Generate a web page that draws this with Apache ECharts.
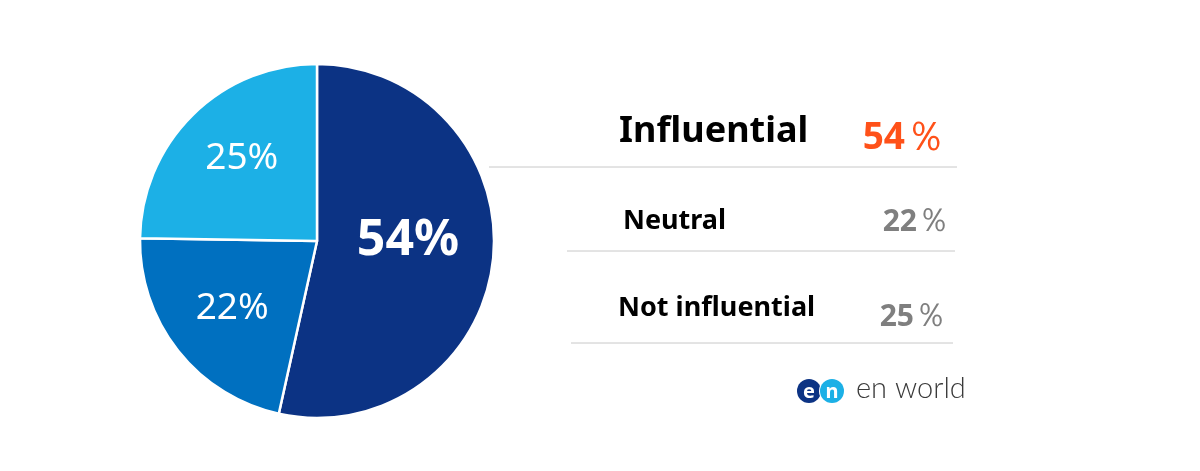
<!DOCTYPE html>
<html lang="en">
<head>
    <meta charset="UTF-8">
    <title>Influence</title>
    <script src="https://cdn.jsdelivr.net/npm/echarts@6.0.0/dist/echarts.min.js"></script>
    <style>
        html, body { margin: 0; padding: 0; background: #ffffff; }
        #chart { width: 1200px; height: 471px; }
    </style>
</head>
<body>
    <div id="chart"></div>
    <script>
        // data
        const categories = ['Influential', 'Neutral', 'Not influential'];
        const values = [54, 22, 25];
        const sliceColors = ['#0c3384', '#0070c0', '#1cb0e6'];

        const chart = echarts.init(document.getElementById('chart'));
        const font = '"Noto Sans", "Open Sans", sans-serif';

        // little nudges so the slice labels sit where the original has them
        const labelOffsets = [[0, -10], [-13, 11], [-11, -17]];
        const labelSizes = [50, 37, 37];
        const labelWeights = ['bold', 'normal', 'normal'];

        const pieData = categories.map((name, i) => ({
            name: name,
            value: values[i],
            itemStyle: { color: sliceColors[i] },
            label: {
                fontSize: labelSizes[i],
                fontWeight: labelWeights[i],
                offset: labelOffsets[i]
            }
        }));

        // table on the right
        const rows = [
            { nameX: 619, valX: 946, y: 132, valY: 138, nameSize: 36, valSize: 37, valColor: '#ff5119', line: [489, 167, 957] },
            { nameX: 623, valX: 950, y: 221, valY: 222, nameSize: 27, valSize: 30, valColor: '#7f7f7f', line: [567, 251, 955] },
            { nameX: 618, valX: 947, y: 308, valY: 317, nameSize: 27, valSize: 30, valColor: '#7f7f7f', line: [571, 343, 953] }
        ];

        const graphics = [];
        rows.forEach((r, i) => {
            graphics.push({
                type: 'text', silent: true,
                x: r.nameX, y: r.y,
                style: {
                    text: categories[i],
                    font: 'bold ' + r.nameSize + 'px ' + font,
                    fill: '#000000', textVerticalAlign: 'middle'
                }
            });
            graphics.push({
                type: 'text', silent: true,
                x: r.valX, y: r.valY,
                style: {
                    text: '{v|' + values[i] + '}{p|％}',
                    align: 'right', verticalAlign: 'middle',
                    rich: {
                        v: { fontSize: r.valSize, fontWeight: 'bold', fontFamily: font, fill: r.valColor, color: r.valColor },
                        p: { fontSize: Math.round(r.valSize * 1.1), fontWeight: 'normal', fontFamily: font, fill: r.valColor, color: r.valColor }
                    }
                }
            });
            graphics.push({
                type: 'line', silent: true,
                shape: { x1: r.line[0], y1: r.line[1], x2: r.line[2], y2: r.line[1] },
                style: { stroke: '#c8c8c8', lineWidth: 1 }
            });
        });

        // en world logo
        graphics.push(
            { type: 'circle', silent: true, shape: { cx: 809, cy: 391, r: 12 }, style: { fill: '#0c3384' } },
            { type: 'circle', silent: true, shape: { cx: 832, cy: 391, r: 13 }, style: { fill: '#ffffff' } },
            { type: 'circle', silent: true, shape: { cx: 832, cy: 391, r: 12 }, style: { fill: '#1cb0e6' } },
            { type: 'text', silent: true, x: 809, y: 392, style: { text: 'e', font: 'bold 20px ' + font, fill: '#ffffff', align: 'center', verticalAlign: 'middle' } },
            { type: 'text', silent: true, x: 832, y: 392, style: { text: 'n', font: 'bold 20px ' + font, fill: '#ffffff', align: 'center', verticalAlign: 'middle' } },
            { type: 'text', silent: true, x: 856, y: 389, style: { text: 'en world', font: '300 29px Lato, ' + font, fill: '#3a3a3a', verticalAlign: 'middle' } }
        );

        const option = {
            backgroundColor: '#ffffff',
            animation: false,
            series: [{
                type: 'pie',
                center: [317, 241],
                radius: 177,
                startAngle: 90,
                clockwise: true,
                silent: true,
                itemStyle: { borderColor: '#ffffff', borderWidth: 2.5 },
                label: {
                    show: true,
                    position: 'inside',
                    color: '#ffffff',
                    fontFamily: font,
                    formatter: p => p.value + '%'
                },
                labelLine: { show: false },
                data: pieData
            }],
            graphic: graphics
        };

        chart.setOption(option);
    </script>
</body>
</html>
